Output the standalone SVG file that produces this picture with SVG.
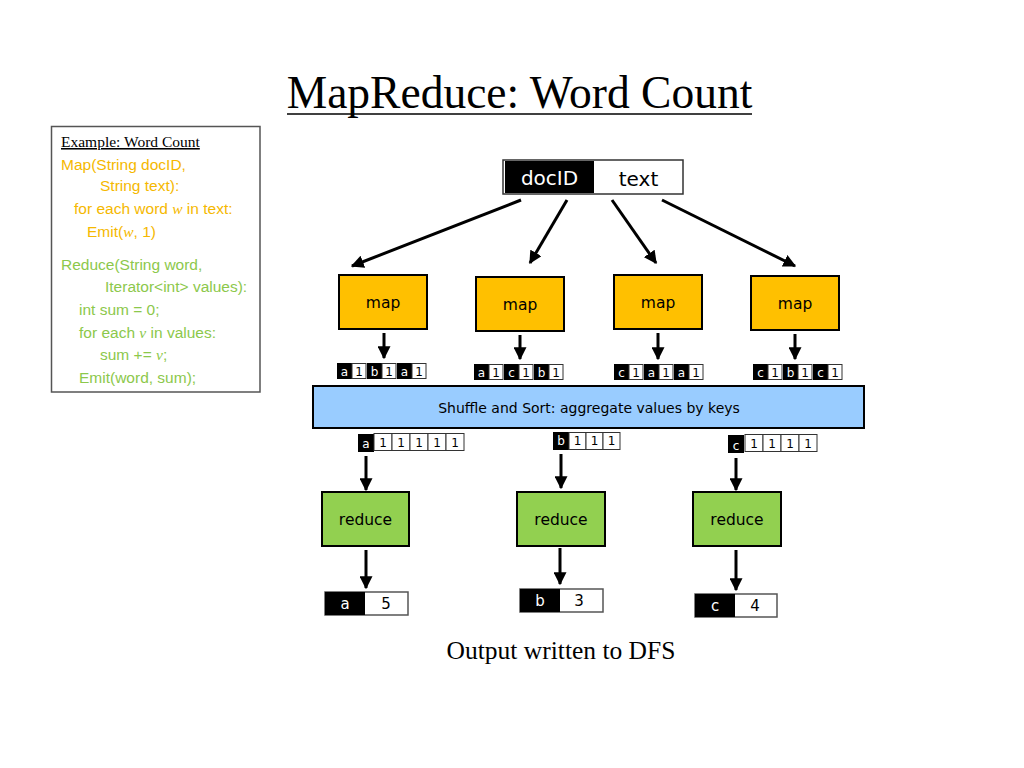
<svg xmlns="http://www.w3.org/2000/svg" width="1024" height="768" viewBox="0 0 1024 768">
<style>
.title{font-family:"Liberation Serif",serif;font-size:45.5px;fill:#000}
.code{font-family:"Liberation Sans",Arial,sans-serif;font-size:15.5px}
.or{fill:#F5B800}
.gr{fill:#8CC84B}
.it{font-family:"Liberation Serif",serif;font-style:italic}
.lbl{font-family:"DejaVu Sans",Verdana,sans-serif;text-anchor:middle}
.box{stroke:#000;stroke-width:2}
.map{fill:#FFC000}
.red{fill:#92D050}
.k{fill:#000}
.v{fill:#fff;stroke:#333;stroke-width:1}
.kt{font-family:"DejaVu Sans",Verdana,sans-serif;font-size:12px;fill:#fff;text-anchor:middle}
.vt{font-family:"DejaVu Sans",Verdana,sans-serif;font-size:12px;fill:#000;text-anchor:middle}
.ar{stroke:#000;stroke-width:3;fill:none;marker-end:url(#ah)}
</style>
<defs>
<marker id="ah" markerWidth="13" markerHeight="13" refX="9" refY="5" orient="auto" markerUnits="userSpaceOnUse" viewBox="0 0 10 10">
<path d="M0,0 L10,5 L0,10 Z" fill="#000"/>
</marker>
</defs>
<rect width="1024" height="768" fill="#fff"/>

<g id="title">
<text class="title" x="519.5" y="108" text-anchor="middle">MapReduce: Word Count</text>
<line x1="287" y1="114" x2="752" y2="114" stroke="#000" stroke-width="1.5"/>
</g>

<g id="code-box">
<rect x="51.5" y="126.5" width="208.5" height="265.5" fill="#fff" stroke="#555" stroke-width="1.5"/>
<text x="61" y="147" font-family="Liberation Serif,serif" font-size="15.5" fill="#000" text-decoration="underline">Example: Word Count</text>
<text class="code or" x="61" y="170">Map(String docID,</text>
<text class="code or" x="100" y="191">String text):</text>
<text class="code or" x="74" y="214">for each word <tspan class="it">w</tspan> in text:</text>
<text class="code or" x="87" y="237">Emit(<tspan class="it">w</tspan>, 1)</text>
<text class="code gr" x="61" y="270">Reduce(String word,</text>
<text class="code gr" x="105" y="292">Iterator&lt;int&gt; values):</text>
<text class="code gr" x="79" y="315">int sum = 0;</text>
<text class="code gr" x="79" y="338">for each <tspan class="it">v</tspan> in values:</text>
<text class="code gr" x="100" y="360">sum += <tspan class="it">v</tspan>;</text>
<text class="code gr" x="79" y="383">Emit(word, sum);</text>
</g>

<g id="input">
<rect x="503" y="160" width="180" height="34" fill="#fff" stroke="#333" stroke-width="1.5"/>
<rect x="505" y="161" width="89" height="32" fill="#000"/>
<text class="lbl" x="549.5" y="185" font-size="20" fill="#fff">docID</text>
<text class="lbl" x="638.5" y="186" font-size="20" fill="#000">text</text>
</g>

<g id="map1"><rect class="box map" x="339" y="275" width="88" height="54"/><text class="lbl" x="383" y="308" font-size="15.5">map</text></g>
<g id="map2"><rect class="box map" x="476" y="277" width="88" height="54"/><text class="lbl" x="520" y="310" font-size="15.5">map</text></g>
<g id="map3"><rect class="box map" x="614" y="275" width="88" height="54"/><text class="lbl" x="658" y="308" font-size="15.5">map</text></g>
<g id="map4"><rect class="box map" x="751" y="276" width="88" height="54"/><text class="lbl" x="795" y="309" font-size="15.5">map</text></g>

<g id="map-out1">
<rect class="k" x="337" y="363" width="15" height="16"/><text class="kt" x="344.5" y="376">a</text>
<rect class="v" x="352" y="363.5" width="14" height="15"/><text class="vt" x="359" y="376">1</text>
<rect class="k" x="367" y="363" width="15" height="16"/><text class="kt" x="374.5" y="376">b</text>
<rect class="v" x="382" y="363.5" width="14" height="15"/><text class="vt" x="389" y="376">1</text>
<rect class="k" x="397" y="363" width="15" height="16"/><text class="kt" x="404.5" y="376">a</text>
<rect class="v" x="412" y="363.5" width="14" height="15"/><text class="vt" x="419" y="376">1</text>
</g>
<g id="map-out2">
<rect class="k" x="474" y="364" width="15" height="16"/><text class="kt" x="481.5" y="377">a</text>
<rect class="v" x="489" y="364.5" width="14" height="15"/><text class="vt" x="496" y="377">1</text>
<rect class="k" x="504" y="364" width="15" height="16"/><text class="kt" x="511.5" y="377">c</text>
<rect class="v" x="519" y="364.5" width="14" height="15"/><text class="vt" x="526" y="377">1</text>
<rect class="k" x="534" y="364" width="15" height="16"/><text class="kt" x="541.5" y="377">b</text>
<rect class="v" x="549" y="364.5" width="14" height="15"/><text class="vt" x="556" y="377">1</text>
</g>
<g id="map-out3">
<rect class="k" x="614" y="364" width="15" height="16"/><text class="kt" x="621.5" y="377">c</text>
<rect class="v" x="629" y="364.5" width="14" height="15"/><text class="vt" x="636" y="377">1</text>
<rect class="k" x="644" y="364" width="15" height="16"/><text class="kt" x="651.5" y="377">a</text>
<rect class="v" x="659" y="364.5" width="14" height="15"/><text class="vt" x="666" y="377">1</text>
<rect class="k" x="674" y="364" width="15" height="16"/><text class="kt" x="681.5" y="377">a</text>
<rect class="v" x="689" y="364.5" width="14" height="15"/><text class="vt" x="696" y="377">1</text>
</g>
<g id="map-out4">
<rect class="k" x="753" y="364" width="15" height="16"/><text class="kt" x="760.5" y="377">c</text>
<rect class="v" x="768" y="364.5" width="14" height="15"/><text class="vt" x="775" y="377">1</text>
<rect class="k" x="783" y="364" width="15" height="16"/><text class="kt" x="790.5" y="377">b</text>
<rect class="v" x="798" y="364.5" width="14" height="15"/><text class="vt" x="805" y="377">1</text>
<rect class="k" x="813" y="364" width="15" height="16"/><text class="kt" x="820.5" y="377">c</text>
<rect class="v" x="828" y="364.5" width="14" height="15"/><text class="vt" x="835" y="377">1</text>
</g>

<g id="shuffle">
<rect x="313" y="386" width="551" height="42" fill="#99CCFF" stroke="#000" stroke-width="2"/>
<text class="lbl" x="589" y="413" font-size="14">Shuffle and Sort: aggregate values by keys</text>
</g>

<g id="group-a">
<rect class="k" x="358" y="434" width="16" height="18"/><text class="kt" x="366" y="448">a</text>
<rect class="v" x="374" y="433.5" width="18" height="17"/><text class="vt" x="383" y="447">1</text>
<rect class="v" x="392" y="433.5" width="18" height="17"/><text class="vt" x="401" y="447">1</text>
<rect class="v" x="410" y="433.5" width="18" height="17"/><text class="vt" x="419" y="447">1</text>
<rect class="v" x="428" y="433.5" width="18" height="17"/><text class="vt" x="437" y="447">1</text>
<rect class="v" x="446" y="433.5" width="18" height="17"/><text class="vt" x="455" y="447">1</text>
</g>
<g id="group-b">
<rect class="k" x="553" y="432" width="16" height="18"/><text class="kt" x="561" y="445">b</text>
<rect class="v" x="569" y="432.5" width="17" height="17"/><text class="vt" x="577.5" y="445">1</text>
<rect class="v" x="586" y="432.5" width="17" height="17"/><text class="vt" x="594.5" y="445">1</text>
<rect class="v" x="603" y="432.5" width="17" height="17"/><text class="vt" x="611.5" y="445">1</text>
</g>
<g id="group-c">
<rect class="k" x="728" y="435" width="16" height="18"/><text class="kt" x="736" y="450">c</text>
<rect class="v" x="745" y="434.5" width="18" height="17"/><text class="vt" x="754" y="448">1</text>
<rect class="v" x="763" y="434.5" width="18" height="17"/><text class="vt" x="772" y="448">1</text>
<rect class="v" x="781" y="434.5" width="18" height="17"/><text class="vt" x="790" y="448">1</text>
<rect class="v" x="799" y="434.5" width="18" height="17"/><text class="vt" x="808" y="448">1</text>
</g>

<g id="reduce1"><rect class="box red" x="322" y="492" width="87" height="54"/><text class="lbl" x="365.5" y="525" font-size="15.5">reduce</text></g>
<g id="reduce2"><rect class="box red" x="517" y="492" width="88" height="54"/><text class="lbl" x="561" y="525" font-size="15.5">reduce</text></g>
<g id="reduce3"><rect class="box red" x="693" y="492" width="88" height="54"/><text class="lbl" x="737" y="525" font-size="15.5">reduce</text></g>

<g id="out-a">
<rect x="325" y="592" width="83" height="23" fill="#fff" stroke="#555" stroke-width="1.5"/>
<rect x="325" y="592" width="40" height="23" fill="#000"/>
<text class="lbl" x="345" y="609" font-size="15" fill="#fff">a</text>
<text class="lbl" x="386" y="609" font-size="15">5</text>
</g>
<g id="out-b">
<rect x="520" y="589" width="83" height="23" fill="#fff" stroke="#555" stroke-width="1.5"/>
<rect x="520" y="589" width="40" height="23" fill="#000"/>
<text class="lbl" x="540" y="606" font-size="15" fill="#fff">b</text>
<text class="lbl" x="579" y="606" font-size="15">3</text>
</g>
<g id="out-c">
<rect x="695" y="594" width="82" height="23" fill="#fff" stroke="#555" stroke-width="1.5"/>
<rect x="695" y="594" width="40" height="23" fill="#000"/>
<text class="lbl" x="715" y="611" font-size="15" fill="#fff">c</text>
<text class="lbl" x="755" y="611" font-size="15">4</text>
</g>

<g id="connectors">
<line class="ar" x1="521" y1="200" x2="352" y2="266"/>
<line class="ar" x1="567" y1="200" x2="530" y2="263"/>
<line class="ar" x1="612" y1="200" x2="656" y2="263"/>
<line class="ar" x1="662" y1="200" x2="795" y2="266"/>
<line class="ar" x1="384" y1="333" x2="384" y2="358"/>
<line class="ar" x1="520" y1="335" x2="520" y2="359"/>
<line class="ar" x1="658" y1="333" x2="658" y2="359"/>
<line class="ar" x1="795" y1="334" x2="795" y2="359"/>
<line class="ar" x1="366" y1="456" x2="366" y2="490"/>
<line class="ar" x1="561" y1="454" x2="561" y2="488"/>
<line class="ar" x1="736" y1="458" x2="736" y2="490"/>
<line class="ar" x1="366" y1="550" x2="366" y2="588"/>
<line class="ar" x1="560" y1="548" x2="560" y2="584"/>
<line class="ar" x1="736" y1="550" x2="736" y2="590"/>
</g>

<text x="561" y="659" font-family="Liberation Serif,serif" font-size="25.5" text-anchor="middle" fill="#000">Output written to DFS</text>
</svg>
